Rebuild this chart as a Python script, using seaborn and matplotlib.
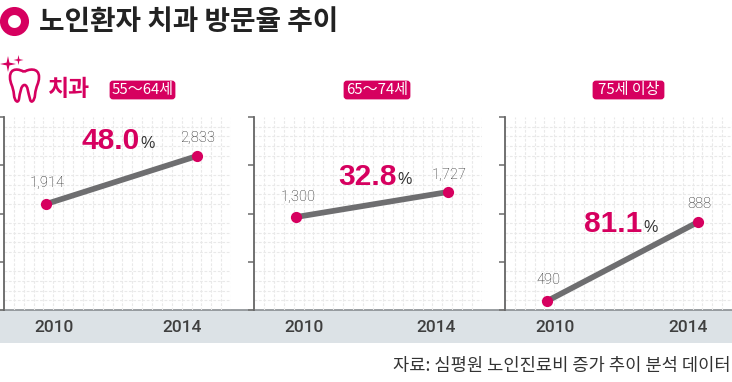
import numpy as np
import pandas as pd
import matplotlib.pyplot as plt
from matplotlib.patches import Circle, FancyBboxPatch, PathPatch, Rectangle
from matplotlib.path import Path
import seaborn as sns

sns.set_style('white')
plt.rcParams['font.family'] = ['Noto Sans CJK KR', 'DejaVu Sans']

W, H = 732, 382
PINK = '#d6005f'
GREY_LINE = '#6e6e70'
YEARS = [2010, 2014]

age_groups = ['55～64세', '65～74세', '75세 이상']
visits_5564 = [1914, 2833]
visits_6574 = [1300, 1727]
visits_75 = [490, 888]
growth = ['48.0', '32.8', '81.1']
title = '노인환자 치과 방문율 추이'
source = '자료: 심평원 노인진료비 증가 추이 분석 데이터'

# left edge, right edge of each panel in pixels
panel_x = [(4, 231), (254, 482), (505, 732)]
# y limits picked so the points land where they do in the picture
panel_ylim = [(-115, 3580), (-288, 3008), (445, 1417)]
panel_xlim = (2008.887, 2014.9)
top, bottom = 117, 310

fig = plt.figure(figsize=(W / 100, H / 100), dpi=100)

# overlay in pixel coordinates for the furniture
bg = fig.add_axes([0, 0, 1, 1])
bg.set_xlim(0, W)
bg.set_ylim(H, 0)
bg.axis('off')
bg.add_patch(Rectangle((0, bottom), W, 33, color='#dce2e6', lw=0))
bg.plot([0, W], [bottom, bottom], color='#8a8f92', lw=1.2)

# second overlay so the big numbers sit above the panel grids
fg = fig.add_axes([0, 0, 1, 1], zorder=10)
fg.set_xlim(0, W)
fg.set_ylim(H, 0)
fg.axis('off')
fg.patch.set_alpha(0)

# title bullet
bg.add_patch(Circle((14.5, 21.5), 10.5, fc='white', ec=PINK, lw=5.8))
bg.text(39, 22, title, fontsize=20, fontweight='bold', color='#222222', va='center', ha='left')


def sparkle(x, y, r):
    t = np.linspace(0, 2 * np.pi, 9)[:-1]
    rad = np.where(np.arange(8) % 2 == 0, r, r * 0.25)
    pts = np.c_[x + rad * np.sin(t), y - rad * np.cos(t)]
    bg.fill(pts[:, 0], pts[:, 1], color=PINK, lw=0)


sparkle(8, 64, 8)
sparkle(18.5, 60, 5)
tooth = Path(
    [(24, 72),
     (20, 69), (10, 67), (10, 77),
     (10, 84), (13, 85), (14, 95),
     (14.5, 101), (18, 104), (19, 99),
     (20, 93), (21, 85), (24.5, 85),
     (28, 85), (28, 93), (30, 99),
     (31, 104), (34.5, 101), (35, 95),
     (36, 85), (39, 84), (39, 77),
     (39, 67), (28, 69), (24, 72)],
    [Path.MOVETO] + [Path.CURVE4] * 24,
)
bg.add_patch(PathPatch(tooth, fc='none', ec=PINK, lw=1.9))
bg.text(48, 89, '치과', fontsize=16.5, fontweight='bold', color=PINK, va='center', ha='left')

badge_x = [(109, 176), (343, 411), (592, 665)]
for (x0, x1), label in zip(badge_x, age_groups):
    bg.add_patch(FancyBboxPatch((x0 + 2, 82), x1 - x0 - 4, 16, boxstyle='round,pad=0,rounding_size=2', fc=PINK, ec=PINK,
                                lw=2))
    bg.text((x0 + x1) / 2, 90, label, fontsize=10.8, color='white', va='center', ha='center')

series = [visits_5564, visits_6574, visits_75]
pct_pos = [(81, 141), (338, 177), (584, 224)]
label_off = [[(1, -21), (1, -18)], [(2, -20), (1, -17)], [(1, -21), (1, -18)]]
tick_px = [(54, 182), (304, 436), (555, 688)]

for i, values in enumerate(series):
    x0, x1 = panel_x[i]
    ax = fig.add_axes([x0 / W, 1 - bottom / H, (x1 - x0) / W, (bottom - top) / H])
    ax.patch.set_alpha(0)
    df = pd.DataFrame({'year': YEARS, 'visits': values})
    sns.lineplot(data=df, x='year', y='visits', color=GREY_LINE, lw=4.1, ax=ax, zorder=3)
    sns.scatterplot(data=df, x='year', y='visits', color=PINK, s=65, lw=0, ax=ax, zorder=4)
    ax.set_xlim(panel_xlim)
    ax.set_ylim(panel_ylim[i])
    ax.set_xlabel('')
    ax.set_ylabel('')

    # grid roughly 10 px apart, ticks every 5th line
    ax.set_yticks(np.linspace(*panel_ylim[i], 5))
    ax.set_yticks(np.linspace(*panel_ylim[i], 21), minor=True)
    ax.set_xticks([])
    ax.set_xticks(np.linspace(*panel_xlim, 24), minor=True)
    ax.tick_params(axis='y', which='major', left=True, length=4, width=1.2, color='#777777', labelleft=False)
    ax.tick_params(axis='both', which='minor', length=0)
    ax.grid(which='minor', color='#e9e9e9', lw=0.8, ls=(0, (2.5, 1.5)), zorder=0)
    ax.set_axisbelow(True)
    for side in ['top', 'right', 'bottom']:
        ax.spines[side].set_visible(False)
    ax.spines['left'].set_color('#666666')
    ax.spines['left'].set_linewidth(1.3)

    # value labels, offset in points from the marker
    for yr, v, (dx, dy) in zip(YEARS, values, label_off[i]):
        ax.annotate(f'{v:,}', (yr, v), xytext=(dx * 0.72, -dy * 0.72), textcoords='offset points', fontsize=10.5,
                    family='Roboto', fontweight='light', color='#222222', ha='center', va='center')

    px, py = pct_pos[i]
    fg.text(px, py, growth[i], fontsize=21.5, family='Liberation Sans', fontweight='bold', color=PINK, va='center', ha='left')
    fg.text(px + 59, py + 3, '%', fontsize=11.5, family='Liberation Sans', color='#333333', va='center', ha='left')

    for px, yr in zip(tick_px[i], YEARS):
        bg.text(px, 328, str(yr), fontsize=12.5, family='Roboto', fontweight='medium', color='#3f3f3f', va='center',
                ha='center')

bg.text(731, 366, source, fontsize=12.7, color='#333333', va='center', ha='right')

fig.savefig('out.png', dpi=100)
